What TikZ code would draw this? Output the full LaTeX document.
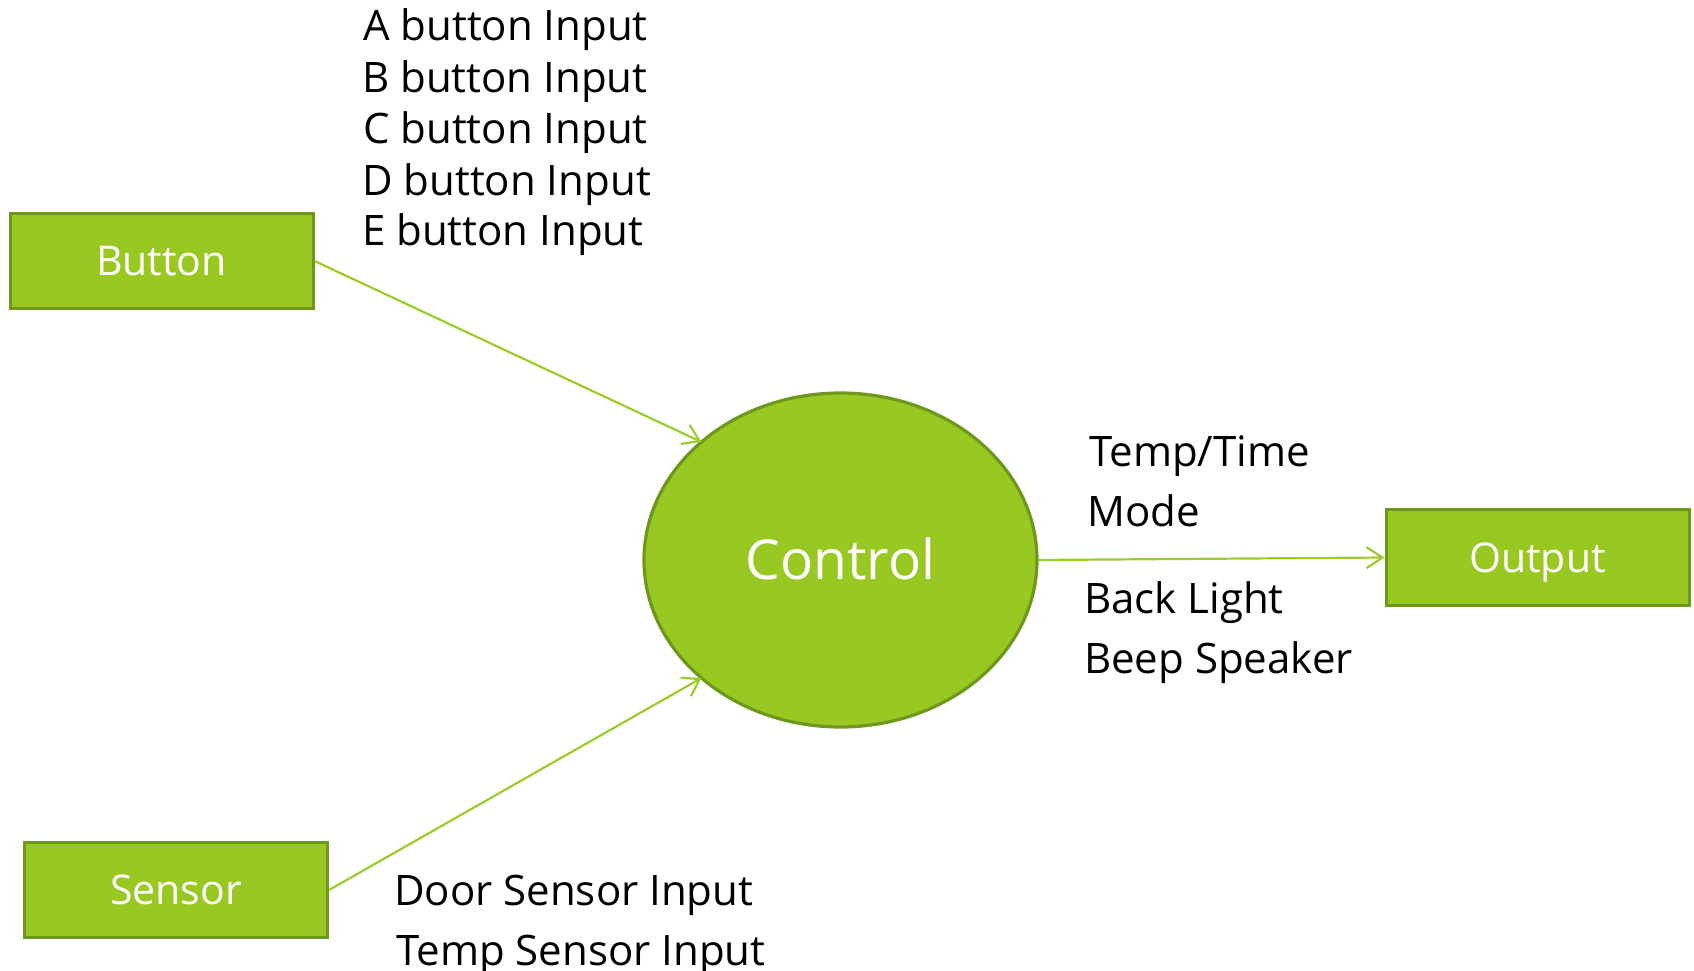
\documentclass[tikz,border=0pt]{standalone}
\usepackage{fontspec}
\setmainfont{Open Sans}
\usetikzlibrary{shapes.geometric,arrows.meta}
\definecolor{leaf}{HTML}{9AC823}
\definecolor{leafedge}{HTML}{6E981C}
\definecolor{wire}{HTML}{9CCB2C}
\tikzset{
  block/.style={draw=leafedge, fill=leaf, line width=3pt, inner sep=0pt,
    text=white, font=\fontsize{41pt}{49pt}\selectfont,
    text height=29.3pt, text depth=0pt,
    minimum width=303pt, minimum height=95.5pt},
  hub/.style={ellipse, draw=leafedge, fill=leaf, line width=3.2pt, inner sep=0pt,
    text=white, font=\fontsize{55pt}{66pt}\selectfont,
    text height=39.3pt, text depth=0pt,
    minimum width=393pt, minimum height=334pt},
  flow/.style={draw=wire, line width=2.2pt,
    -{Straight Barb[length=16pt, width=21pt, line width=2.2pt]}},
  note/.style={anchor=base west, inner sep=0pt, text=black,
    font=\fontsize{42pt}{50pt}\selectfont}
}
\begin{document}
\begin{tikzpicture}[x=1pt, y=-1pt]
  \useasboundingbox (0,0) rectangle (1694,971);

  % boxes and the central process
  \node[block] (button) at (161.5,261) {Button};
  \node[block] (sensor) at (176,890) {Sensor};
  \node[block] (output) at (1537.5,557.5) {Output};
  \node[hub]   (control) at (840.5,560) {Control};

  % connection points on the ellipse, upper-left and lower-left
  \path (control.center) ++(-139,-118) coordinate (inTop);
  \path (control.center) ++(-139,118)  coordinate (inBottom);

  % data flows
  \draw[flow] (button.east) -- (inTop);
  \draw[flow] (sensor.east) -- (inBottom);
  \draw[flow] (control.east) -- (output.west);

  % button inputs
  \node[note] (inA) at (363,40.5)  {A button Input};
  \node[note] (inB) at (362,92.4)  {B button Input};
  \node[note] (inC) at (363,143.5) {C button Input};
  \node[note] (inD) at (362,195)   {D button Input};
  \node[note] (inE) at (362,245.8) {E button Input};

  % outputs
  \node[note] (outTemp)  at (1089,466)   {Temp/Time};
  \node[note] (outMode)  at (1087,526.7) {Mode};
  \node[note] (outLight) at (1084,613)   {Back Light};
  \node[note] (outBeep)  at (1084,673.6) {Beep Speaker};

  % sensor inputs
  \node[note] (inDoor) at (394,905)   {Door Sensor Input};
  \node[note] (inTmp)  at (396,965.3) {Temp Sensor Input};
\end{tikzpicture}
\end{document}
